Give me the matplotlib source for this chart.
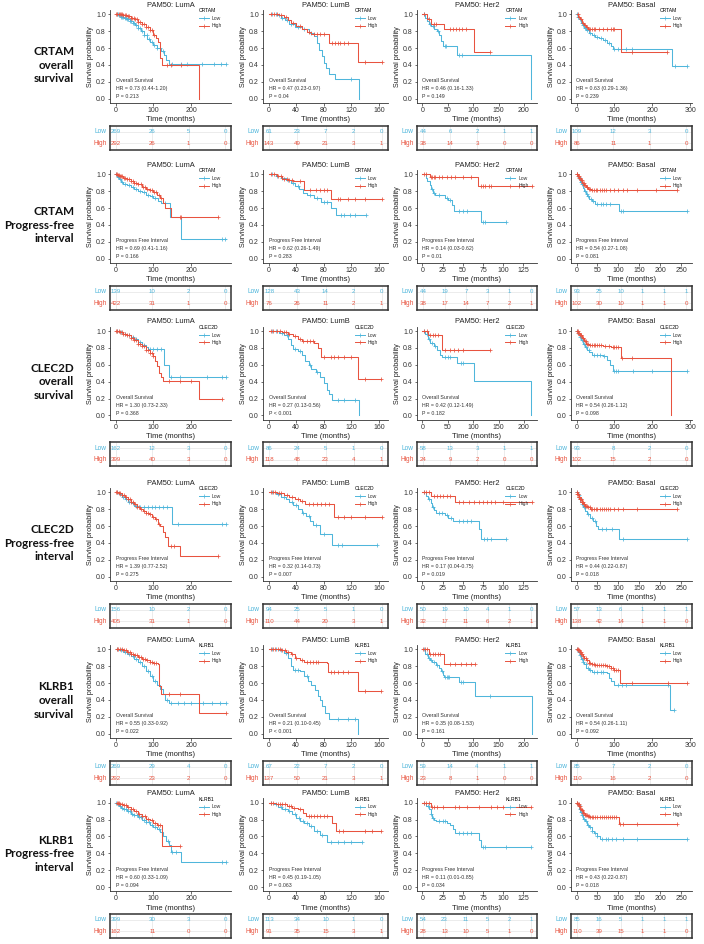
import matplotlib
matplotlib.use("Agg")
import matplotlib.pyplot as plt
from matplotlib.lines import Line2D

plt.rcParams['font.family'] = ['Liberation Sans', 'DejaVu Sans']

LOW_C = '#4FB6DB'
HIGH_C = '#E8533F'
AX_C = '#333333'

subtypes = ["LumA", "LumB", "Her2", "Basal"]
os_ticks = [[0, 100, 200], [0, 40, 80, 120, 160], [0, 50, 100, 150, 200], [0, 100, 200, 300]]
pfi_ticks = [[0, 100, 200], [0, 40, 80, 120, 160], [0, 25, 50, 75, 100, 125], [0, 50, 100, 150, 200, 250]]
os_xmax = [290, 165, 215, 290]
pfi_xmax = [290, 165, 135, 262]

# ---------------- CRTAM overall survival ----------------
crtam_os_low = [
    [(0, 1), (8, .99), (15, .97), (22, .96), (30, .94), (38, .92), (45, .9), (52, .87), (60, .84), (67, .8), (75, .76),
     (84, .71), (92, .67), (100, .64), (110, .6), (120, .56), (128, .52), (134, .46), (140, .41), (292, .41)],
    [(0, 1), (12, .99), (18, .96), (24, .93), (30, .89), (38, .85), (48, .82), (58, .78), (66, .74), (70, .66), (73, .58),
     (77, .5), (80, .42), (83, .36), (87, .29), (96, .23), (131, .23), (131, 0)],
    [(0, 1), (6, .96), (9, .92), (12, .89), (16, .86), (22, .83), (28, .8), (33, .75), (37, .68), (40, .62), (68, .52),
     (213, .52), (213, 0)],
    [(0, 1), (4, .97), (8, .94), (12, .9), (16, .87), (20, .84), (26, .81), (32, .78), (40, .75), (50, .73), (60, .72),
     (70, .7), (80, .66), (90, .62), (96, .59), (250, .59), (251, .39), (290, .39)],
]
crtam_os_low_cens = [
    [3, 6, 9, 12, 15, 18, 21, 24, 27, 30, 34, 38, 42, 46, 50, 55, 60, 65, 70, 76, 82, 88, 95, 102, 110, 118, 126, 150, 172,
     189, 229, 259, 277, 290],
    [5, 10, 15, 20, 26, 33, 42, 52, 62, 120],
    [3, 8, 14, 20, 30, 44, 47, 72, 78],
    [2, 5, 10, 14, 18, 22, 28, 35, 45, 55, 65, 75, 85, 100, 110, 130, 145, 260, 290],
]
crtam_os_high = [
    [(0, 1), (20, .99), (30, .98), (40, .96), (50, .94), (60, .91), (70, .88), (80, .85), (90, .81), (100, .76), (108, .72),
     (113, .67), (117, .48), (122, .4), (220, .4), (220, 0)],
    [(0, 1), (15, .99), (22, .97), (28, .93), (33, .9), (40, .86), (48, .83), (55, .79), (62, .77), (87, .66), (130, .44),
     (165, .44)],
    [(0, 1), (8, .95), (16, .88), (42, .82), (102, .55), (134, .55)],
    [(0, 1), (5, .97), (10, .94), (15, .9), (20, .87), (25, .85), (30, .83), (38, .82), (116, .55), (238, .55)],
]
crtam_os_high_cens = [
    [2, 5, 8, 11, 14, 17, 20, 24, 28, 32, 36, 40, 44, 48, 52, 56, 60, 65, 70, 75, 80, 85, 90, 96, 102, 137, 146, 172],
    [4, 8, 12, 18, 25, 35, 45, 58, 66, 70, 75, 80, 92, 96, 100, 104, 110, 115, 140, 165],
    [4, 12, 22, 26, 55, 60, 66, 72, 78, 86, 134],
    [3, 7, 12, 18, 22, 27, 33, 36, 40, 45, 50, 60, 70, 80, 90, 95, 100, 145, 238],
]
crtam_os_n_low = [[269, 26, 5, 0], [61, 23, 7, 2, 0], [44, 6, 2, 1, 1], [109, 12, 3, 0]]
crtam_os_n_high = [[292, 26, 1, 0], [143, 49, 21, 3, 1], [38, 14, 3, 0, 0], [86, 11, 1, 0]]
crtam_os_hr = ["0.73 (0.44-1.20)", "0.47 (0.23-0.97)", "0.46 (0.16-1.33)", "0.63 (0.29-1.36)"]
crtam_os_p = ["P = 0.213", "P = 0.04", "P = 0.149", "P = 0.239"]

# ---------------- CRTAM progress-free interval ----------------
crtam_pfi_low = [
    [(0, 1), (5, .97), (10, .94), (15, .91), (20, .89), (30, .87), (40, .85), (50, .83), (60, .8), (70, .79), (80, .76),
     (90, .74), (100, .72), (112, .68), (120, .66), (144, .49), (172, .23), (290, .23)],
    [(0, 1), (10, .98), (18, .96), (25, .93), (32, .9), (38, .86), (44, .82), (50, .78), (56, .75), (66, .72), (76, .67),
     (90, .6), (98, .52), (141, .52)],
    [(0, 1), (4, .96), (6, .92), (9, .87), (11, .82), (13, .78), (16, .75), (28, .72), (32, .7), (37, .64), (39, .57),
     (72, .43), (104, .43)],
    [(0, 1), (3, .97), (6, .94), (9, .91), (12, .88), (15, .84), (18, .8), (22, .77), (26, .74), (30, .71), (36, .68),
     (44, .65), (102, .57), (262, .57)],
]
crtam_pfi_low_cens = [
    [2, 6, 12, 18, 25, 35, 45, 55, 65, 75, 85, 95, 105, 130, 280, 288],
    [5, 12, 20, 28, 35, 42, 60, 70, 80, 85, 105, 110, 118, 125, 141],
    [12, 14, 20, 30, 34, 45, 50, 55, 75, 77, 104],
    [2, 5, 8, 11, 14, 20, 24, 28, 34, 40, 50, 58, 62, 70, 80, 105, 110, 262],
]
crtam_pfi_high = [
    [(0, 1), (5, .99), (10, .98), (20, .96), (30, .94), (40, .92), (50, .9), (60, .88), (70, .85), (80, .83), (90, .81),
     (100, .79), (110, .76), (118, .72), (124, .66), (130, .6), (145, .49), (270, .49)],
    [(0, 1), (12, .98), (20, .95), (28, .93), (36, .92), (52, .81), (90, .71), (165, .71)],
    [(0, 1), (9, .97), (69, .86), (135, .86)],
    [(0, 1), (3, .98), (6, .96), (10, .93), (14, .9), (18, .87), (22, .85), (28, .83), (34, .81), (240, .81)],
]
crtam_pfi_high_cens = [
    [1, 3, 6, 9, 12, 15, 18, 22, 26, 30, 35, 40, 45, 50, 55, 60, 66, 72, 78, 84, 90, 96, 102, 108, 114, 120, 170, 172, 270],
    [4, 8, 14, 18, 22, 26, 30, 34, 45, 60, 68, 74, 80, 85, 100, 104, 115, 125, 140, 165],
    [2, 5, 10, 12, 14, 16, 20, 24, 30, 35, 40, 50, 60, 72, 75, 78, 82, 85, 120, 135],
    [1, 2, 4, 5, 7, 8, 11, 13, 15, 17, 19, 21, 24, 26, 30, 33, 38, 42, 46, 50, 55, 60, 65, 70, 80, 90, 100, 110, 120, 145,
     190, 240],
]
crtam_pfi_n_low = [[139, 10, 2, 0], [128, 43, 14, 2, 0], [44, 19, 7, 3, 1, 0], [93, 25, 10, 1, 1, 1]]
crtam_pfi_n_high = [[422, 31, 1, 0], [76, 26, 11, 2, 1], [38, 17, 14, 7, 2, 1], [102, 30, 10, 1, 1, 0]]
crtam_pfi_hr = ["0.69 (0.41-1.16)", "0.62 (0.26-1.49)", "0.14 (0.03-0.62)", "0.54 (0.27-1.08)"]
crtam_pfi_p = ["P = 0.166", "P = 0.283", "P = 0.01", "P = 0.081"]

# ---------------- CLEC2D overall survival ----------------
clec2d_os_low = [
    [(0, 1), (10, .99), (20, .97), (30, .95), (40, .93), (50, .9), (60, .87), (70, .84), (80, .81), (86, .79), (128, .6),
     (140, .45), (290, .45)],
    [(0, 1), (15, .98), (22, .95), (28, .9), (32, .83), (36, .79), (42, .76), (48, .72), (53, .65), (58, .6), (62, .55),
     (68, .52), (75, .45), (80, .38), (84, .3), (88, .25), (92, .18), (131, .18), (131, 0)],
    [(0, 1), (6, .96), (10, .9), (15, .86), (22, .82), (28, .78), (34, .72), (38, .69), (68, .62), (102, .41), (214, .41),
     (214, 0)],
    [(0, 1), (4, .97), (8, .93), (12, .89), (16, .85), (22, .81), (28, .78), (34, .75), (40, .72), (70, .7), (80, .66),
     (88, .6), (96, .53), (290, .53)],
]
clec2d_os_low_cens = [
    [5, 15, 25, 35, 45, 55, 65, 75, 90, 100, 110, 120, 145, 170, 240, 280, 290],
    [5, 10, 20, 26, 38, 45, 60, 70, 100, 110, 125],
    [3, 8, 12, 18, 25, 45, 50, 54, 75, 80],
    [2, 6, 10, 14, 20, 26, 32, 45, 55, 62, 72, 100, 105, 110, 150, 200, 250, 290],
]
clec2d_os_high = [
    [(0, 1), (10, .99), (20, .97), (30, .95), (40, .92), (50, .89), (60, .85), (70, .82), (80, .78), (90, .74), (100, .7),
     (105, .65), (110, .58), (115, .5), (120, .45), (125, .41), (221, .2), (280, .2)],
    [(0, 1), (20, .99), (28, .97), (35, .94), (42, .9), (48, .88), (66, .86), (72, .8), (76, .69), (130, .43), (163, .43)],
    [(0, 1), (10, .95), (39, .78), (133, .78)],
    [(0, 1), (4, .98), (8, .95), (14, .92), (20, .88), (26, .85), (32, .83), (70, .82), (90, .81), (116, .68), (248, .68),
     (248, 0)],
]
clec2d_os_high_cens = [
    [2, 5, 8, 12, 16, 20, 25, 30, 35, 40, 45, 50, 55, 60, 65, 70, 75, 80, 85, 90, 95, 100, 140, 170, 200, 280],
    [3, 6, 12, 16, 22, 25, 30, 38, 45, 50, 55, 60, 64, 80, 90, 95, 100, 110, 120, 140, 163],
    [4, 8, 14, 20, 25, 30, 44, 55, 62, 70, 80, 133],
    [1, 3, 5, 7, 9, 11, 13, 16, 18, 22, 24, 28, 30, 35, 40, 45, 50, 55, 60, 65, 75, 85, 95, 100, 105, 110, 120, 145],
]
clec2d_os_n_low = [[162, 12, 3, 0], [86, 24, 5, 1, 0], [58, 13, 3, 1, 1], [93, 8, 2, 0]]
clec2d_os_n_high = [[399, 40, 3, 0], [118, 48, 23, 4, 1], [24, 9, 2, 0, 0], [102, 15, 2, 0]]
clec2d_os_hr = ["1.30 (0.73-2.33)", "0.27 (0.13-0.56)", "0.42 (0.12-1.49)", "0.54 (0.26-1.12)"]
clec2d_os_p = ["P = 0.368", "P < 0.001", "P = 0.182", "P = 0.098"]

# ---------------- CLEC2D progress-free interval ----------------
clec2d_pfi_low = [
    [(0, 1), (8, .98), (16, .95), (24, .92), (32, .89), (40, .87), (50, .84), (60, .83), (149, .62), (290, .62)],
    [(0, 1), (10, .98), (18, .95), (25, .92), (30, .88), (36, .85), (42, .8), (48, .76), (54, .72), (60, .66), (64, .61),
     (74, .5), (92, .38), (158, .38)],
    [(0, 1), (4, .96), (7, .92), (10, .87), (12, .83), (14, .79), (17, .76), (28, .73), (32, .7), (38, .66), (70, .57),
     (73, .45), (104, .45)],
    [(0, 1), (3, .97), (6, .93), (9, .89), (12, .86), (16, .82), (20, .78), (26, .74), (32, .7), (40, .66), (46, .6),
     (52, .56), (102, .45), (262, .45)],
]
clec2d_pfi_low_cens = [
    [4, 12, 20, 28, 36, 45, 55, 65, 75, 85, 95, 105, 115, 125, 135, 165, 280, 290],
    [5, 14, 22, 34, 40, 50, 58, 68, 80, 100, 106, 158],
    [2, 8, 13, 20, 24, 30, 35, 45, 50, 55, 60, 76, 80, 85, 104],
    [2, 5, 8, 14, 18, 28, 36, 44, 60, 70, 85, 110, 262],
]
clec2d_pfi_high = [
    [(0, 1), (8, .99), (16, .97), (24, .95), (32, .92), (40, .88), (48, .86), (56, .83), (64, .8), (72, .78), (80, .76),
     (88, .74), (96, .71), (104, .68), (112, .63), (118, .6), (124, .53), (130, .47), (138, .36), (170, .25), (270, .25)],
    [(0, 1), (12, .99), (22, .97), (30, .95), (38, .92), (45, .9), (53, .86), (95, .71), (165, .71)],
    [(0, 1), (11, .96), (40, .89), (135, .89)],
    [(0, 1), (2, .98), (5, .95), (8, .92), (12, .89), (16, .86), (20, .84), (26, .82), (32, .8), (240, .8)],
]
clec2d_pfi_high_cens = [
    [2, 5, 9, 13, 18, 22, 27, 32, 37, 42, 47, 52, 57, 62, 68, 74, 80, 86, 92, 100, 108, 115, 145, 155, 270],
    [3, 6, 9, 15, 18, 26, 34, 42, 48, 58, 64, 70, 76, 82, 88, 100, 110, 120, 140, 165],
    [2, 5, 8, 14, 18, 22, 26, 30, 34, 45, 50, 58, 64, 70, 75, 80, 85, 90, 100, 135],
    [1, 2, 3, 4, 5, 6, 7, 8, 9, 10, 11, 12, 13, 14, 15, 17, 19, 21, 23, 25, 28, 31, 35, 38, 42, 46, 50, 55, 60, 65, 70, 75,
     80, 90, 100, 110, 145, 240],
]
clec2d_pfi_n_low = [[156, 10, 2, 0], [94, 25, 5, 1, 0], [50, 19, 10, 4, 1, 0], [57, 13, 6, 1, 1, 1]]
clec2d_pfi_n_high = [[405, 31, 1, 0], [110, 44, 20, 3, 1], [32, 17, 11, 6, 2, 1], [138, 42, 14, 1, 1, 0]]
clec2d_pfi_hr = ["1.39 (0.77-2.52)", "0.32 (0.14-0.73)", "0.17 (0.04-0.75)", "0.44 (0.22-0.87)"]
clec2d_pfi_p = ["P = 0.275", "P = 0.007", "P = 0.019", "P = 0.018"]

# ---------------- KLRB1 overall survival ----------------
klrb1_os_low = [
    [(0, 1), (10, .99), (20, .97), (30, .95), (40, .92), (50, .89), (60, .85), (70, .8), (80, .74), (90, .68), (100, .63),
     (110, .58), (118, .53), (124, .47), (130, .4), (140, .36), (290, .36)],
    [(0, 1), (15, .99), (22, .96), (28, .9), (33, .8), (36, .75), (46, .74), (52, .68), (57, .62), (62, .58), (67, .52),
     (71, .45), (75, .4), (78, .33), (82, .25), (88, .18), (130, .18), (130, 0)],
    [(0, 1), (6, .95), (10, .9), (14, .87), (18, .85), (26, .81), (32, .78), (36, .74), (40, .7), (42, .67), (72, .61),
     (103, .45), (215, .45), (215, 0)],
    [(0, 1), (4, .97), (8, .93), (12, .89), (16, .85), (20, .82), (26, .78), (32, .75), (40, .73), (80, .72), (85, .66),
     (92, .62), (98, .58), (247, .28), (258, .28)],
]
klrb1_os_low_cens = [
    [5, 15, 25, 35, 45, 55, 65, 75, 85, 95, 105, 135, 145, 165, 180, 200, 230, 255, 275, 290],
    [5, 10, 18, 25, 38, 42, 55, 100, 115, 125],
    [3, 8, 12, 16, 22, 28, 38, 44, 48, 50, 52, 76, 80, 134],
    [2, 6, 10, 14, 18, 24, 30, 36, 45, 55, 65, 70, 110, 120, 130, 240, 258],
]
klrb1_os_high = [
    [(0, 1), (20, .99), (30, .97), (40, .95), (50, .93), (60, .91), (70, .89), (80, .87), (90, .85), (100, .84), (112, .82),
     (115, .56), (120, .47), (221, .24), (290, .24)],
    [(0, 1), (18, .99), (25, .97), (32, .94), (38, .9), (45, .87), (52, .85), (84, .84), (86, .73), (130, .51), (163, .51)],
    [(0, 1), (12, .94), (43, .83), (103, .83)],
    [(0, 1), (4, .99), (8, .97), (12, .95), (16, .92), (20, .9), (26, .87), (32, .84), (40, .82), (50, .81), (80, .8),
     (90, .78), (100, .76), (113, .75), (115, .6), (290, .6)],
]
klrb1_os_high_cens = [
    [3, 7, 12, 17, 22, 27, 32, 37, 42, 47, 52, 57, 62, 67, 72, 78, 84, 90, 96, 102, 108, 140, 170, 290],
    [3, 6, 9, 13, 16, 20, 23, 28, 34, 40, 48, 56, 60, 64, 68, 72, 90, 95, 100, 108, 115, 140, 163],
    [2, 5, 8, 15, 20, 25, 30, 35, 55, 65, 75, 85, 95, 103],
    [1, 3, 5, 7, 9, 11, 13, 15, 18, 21, 24, 28, 32, 36, 40, 45, 50, 55, 60, 65, 70, 75, 80, 85, 90, 95, 100, 105, 110, 145,
     240, 290],
]
klrb1_os_n_low = [[269, 29, 4, 0], [67, 22, 7, 2, 0], [59, 14, 4, 1, 1], [85, 7, 2, 0]]
klrb1_os_n_high = [[292, 23, 2, 0], [137, 50, 21, 3, 1], [23, 8, 1, 0, 0], [110, 16, 2, 0]]
klrb1_os_hr = ["0.55 (0.33-0.92)", "0.21 (0.10-0.45)", "0.35 (0.08-1.53)", "0.54 (0.26-1.11)"]
klrb1_os_p = ["P = 0.022", "P < 0.001", "P = 0.161", "P = 0.092"]

# ---------------- KLRB1 progress-free interval ----------------
klrb1_pfi_low = [
    [(0, 1), (5, .98), (10, .96), (15, .94), (20, .92), (30, .9), (40, .87), (50, .85), (60, .83), (70, .8), (80, .77),
     (90, .74), (100, .71), (110, .69), (118, .65), (125, .6), (132, .55), (140, .5), (146, .41), (172, .3), (290, .3)],
    [(0, 1), (8, .98), (14, .95), (20, .93), (28, .9), (34, .87), (40, .82), (46, .78), (52, .76), (58, .72), (66, .67),
     (74, .62), (85, .53), (135, .53)],
    [(0, 1), (5, .96), (8, .92), (10, .87), (12, .82), (14, .79), (17, .78), (30, .76), (34, .73), (38, .69), (40, .64),
     (70, .56), (72, .47), (134, .47)],
    [(0, 1), (3, .97), (6, .93), (9, .89), (12, .85), (16, .81), (20, .78), (25, .74), (30, .71), (36, .67), (42, .64),
     (48, .61), (55, .57), (262, .57)],
]
klrb1_pfi_low_cens = [
    [2, 7, 12, 17, 22, 27, 33, 38, 44, 50, 56, 62, 68, 74, 80, 88, 96, 105, 115, 138, 150, 160, 280, 290],
    [4, 10, 18, 24, 30, 38, 44, 50, 56, 62, 70, 78, 90, 100, 110, 120, 135],
    [2, 7, 11, 13, 20, 25, 28, 45, 50, 55, 60, 75, 78, 104, 134],
    [2, 5, 8, 11, 14, 18, 22, 28, 33, 38, 45, 50, 60, 70, 75, 85, 95, 110, 145, 262],
]
klrb1_pfi_high = [
    [(0, 1), (10, .99), (20, .97), (30, .95), (40, .93), (50, .9), (60, .87), (70, .84), (80, .81), (90, .79), (100, .76),
     (110, .73), (122, .49), (170, .49)],
    [(0, 1), (10, .99), (18, .98), (26, .96), (34, .94), (42, .92), (50, .88), (54, .84), (92, .76), (98, .67), (163, .67)],
    [(0, 1), (11, .95), (134, .95)],
    [(0, 1), (3, .98), (6, .96), (9, .93), (12, .91), (16, .88), (20, .86), (26, .84), (32, .83), (102, .75), (240, .75)],
]
klrb1_pfi_high_cens = [
    [3, 6, 9, 13, 17, 22, 27, 33, 40, 47, 55, 62, 70, 78, 86, 95, 105, 112, 118, 170],
    [3, 6, 13, 16, 20, 23, 29, 32, 37, 45, 58, 62, 66, 70, 75, 80, 85, 102, 108, 140, 150, 163],
    [2, 5, 8, 12, 14, 18, 25, 40, 45, 55, 70, 85, 92, 100, 134],
    [1, 2, 4, 5, 7, 8, 10, 12, 14, 16, 18, 20, 22, 24, 27, 30, 33, 36, 40, 45, 50, 55, 60, 65, 70, 75, 80, 85, 90, 95, 104,
     110, 145, 240],
]
klrb1_pfi_n_low = [[399, 30, 3, 0], [113, 34, 10, 1, 0], [54, 23, 11, 5, 2, 1], [85, 16, 5, 1, 1, 1]]
klrb1_pfi_n_high = [[162, 11, 0, 0], [91, 35, 15, 3, 1], [28, 13, 10, 5, 1, 0], [110, 39, 15, 1, 1, 0]]
klrb1_pfi_hr = ["0.60 (0.33-1.09)", "0.45 (0.19-1.05)", "0.11 (0.01-0.85)", "0.43 (0.22-0.87)"]
klrb1_pfi_p = ["P = 0.094", "P = 0.063", "P = 0.034", "P = 0.018"]

rows = [
    ("CRTAM\noverall\nsurvival", "CRTAM", "Overall Survival", crtam_os_low, crtam_os_low_cens, crtam_os_high,
     crtam_os_high_cens, crtam_os_n_low, crtam_os_n_high, crtam_os_hr, crtam_os_p),
    ("CRTAM\nProgress-free\ninterval", "CRTAM", "Progress Free Interval", crtam_pfi_low, crtam_pfi_low_cens,
     crtam_pfi_high, crtam_pfi_high_cens, crtam_pfi_n_low, crtam_pfi_n_high, crtam_pfi_hr, crtam_pfi_p),
    ("CLEC2D\noverall\nsurvival", "CLEC2D", "Overall Survival", clec2d_os_low, clec2d_os_low_cens, clec2d_os_high,
     clec2d_os_high_cens, clec2d_os_n_low, clec2d_os_n_high, clec2d_os_hr, clec2d_os_p),
    ("CLEC2D\nProgress-free\ninterval", "CLEC2D", "Progress Free Interval", clec2d_pfi_low, clec2d_pfi_low_cens,
     clec2d_pfi_high, clec2d_pfi_high_cens, clec2d_pfi_n_low, clec2d_pfi_n_high, clec2d_pfi_hr, clec2d_pfi_p),
    ("KLRB1\noverall\nsurvival", "KLRB1", "Overall Survival", klrb1_os_low, klrb1_os_low_cens, klrb1_os_high,
     klrb1_os_high_cens, klrb1_os_n_low, klrb1_os_n_high, klrb1_os_hr, klrb1_os_p),
    ("KLRB1\nProgress-free\ninterval", "KLRB1", "Progress Free Interval", klrb1_pfi_low, klrb1_pfi_low_cens,
     klrb1_pfi_high, klrb1_pfi_high_cens, klrb1_pfi_n_low, klrb1_pfi_n_high, klrb1_pfi_hr, klrb1_pfi_p),
]

# layout in pixels
W, H = 704, 944
row_y10 = [14.3, 174.3, 331.0, 492.3, 649.3, 802.7]
unit_h = 84.4
col_left = [110, 263, 417, 571]
col_w = [121, 125, 120, 121]


def px_rect(x, y, w, h):
    return [x / W, 1 - (y + h) / H, w / W, h / H]


def surv_at(steps, t):
    val = steps[0][1]
    for tt, ss in steps:
        if tt <= t:
            val = ss
    return val


def draw_curve(ax, steps, cens, color):
    ts = [p[0] for p in steps]
    ss = [p[1] for p in steps]
    ax.step(ts, ss, where='post', color=color, lw=0.75)
    ax.plot(cens, [surv_at(steps, c) for c in cens], ls='none', marker='+', ms=3.4, mew=0.55, color=color)


fig = plt.figure(figsize=(7.04, 9.44), dpi=100)

for r, (rlabel, gene, endpoint, lows, lcens, highs, hcens, nl, nh, hrs, ps) in enumerate(rows):
    y10 = row_y10[r]
    fig.text(74 / W, 1 - (y10 + 51) / H, rlabel, ha='right', va='center', multialignment='right',
             fontsize=8.4, fontweight='bold', family=['Lato', 'DejaVu Sans'], linespacing=1.3, color='#111111')
    is_os = endpoint == "Overall Survival"
    for c in range(4):
        ticks = os_ticks[c] if is_os else pfi_ticks[c]
        xmax = os_xmax[c] if is_os else pfi_xmax[c]
        ax = fig.add_axes(px_rect(col_left[c], y10 - 0.05 * unit_h, col_w[c], 1.1 * unit_h))
        draw_curve(ax, lows[c], lcens[c], LOW_C)
        draw_curve(ax, highs[c], hcens[c], HIGH_C)
        ax.set_xlim(-0.05 * xmax, 1.05 * xmax)
        ax.set_ylim(-0.05, 1.05)
        ax.set_xticks(ticks)
        ax.set_yticks([0, 0.2, 0.4, 0.6, 0.8, 1.0])
        ax.set_yticklabels(["0.0", "0.2", "0.4", "0.6", "0.8", "1.0"])
        for s in ['top', 'right']:
            ax.spines[s].set_visible(False)
        for s in ['left', 'bottom']:
            ax.spines[s].set_linewidth(0.6)
            ax.spines[s].set_color(AX_C)
        ax.tick_params(labelsize=5.0, length=1.8, width=0.5, pad=1.2, colors=AX_C, labelcolor=AX_C)
        ax.set_title("PAM50: " + subtypes[c], fontsize=5.4, pad=2.5, color='#222222')
        ax.set_xlabel("Time (months)", fontsize=5.5, labelpad=1.5, color='#222222')
        ax.set_ylabel("Survival probability", fontsize=5.2, labelpad=1.5, color='#222222')
        for txt, yy in zip([endpoint, "HR = " + hrs[c], ps[c]], [0.21, 0.115, 0.022]):
            ax.text(0, yy, txt, fontsize=3.8, color='#333333', va='center', ha='left')
        handles = [Line2D([], [], color=LOW_C, lw=0.7, marker='+', ms=3.2, mew=0.5),
                   Line2D([], [], color=HIGH_C, lw=0.7, marker='+', ms=3.2, mew=0.5)]
        leg = ax.legend(handles, ["Low", "High"], title=gene, loc='upper left', bbox_to_anchor=(0.72, 1.04),
                        fontsize=3.6, title_fontsize=3.6, frameon=False, handlelength=2.0, handletextpad=0.6,
                        labelspacing=0.5, borderaxespad=0, alignment='left')
        for t in leg.get_texts():
            t.set_color('#333333')

        # number-at-risk table
        tax = fig.add_axes(px_rect(col_left[c], y10 + 111.5, col_w[c], 24))
        tax.set_xlim(0, 1)
        tax.set_ylim(0, 1)
        tax.set_xticks([])
        tax.set_yticks([])
        for s in tax.spines.values():
            s.set_linewidth(1.1)
            s.set_color(AX_C)
        n = len(nl[c])
        xs = [0.05 + 0.9 * i / (n - 1) for i in range(n)]
        for yy in [0.76, 0.28]:
            tax.axhline(yy, color='#dddddd', lw=0.4, zorder=0)
        for xx in xs:
            tax.axvline(xx, color='#dddddd', lw=0.4, zorder=0)
        for xx, v in zip(xs, nl[c]):
            tax.text(xx, 0.76, str(v), color=LOW_C, fontsize=4.4, ha='center', va='center')
        for xx, v in zip(xs, nh[c]):
            tax.text(xx, 0.28, str(v), color=HIGH_C, fontsize=4.4, ha='center', va='center')
        tax.text(-0.03, 0.76, "Low", color=LOW_C, fontsize=4.7, ha='right', va='center', transform=tax.transAxes,
                 clip_on=False)
        tax.text(-0.03, 0.28, "High", color=HIGH_C, fontsize=4.7, ha='right', va='center', transform=tax.transAxes,
                 clip_on=False)

fig.savefig("out.png", dpi=100)
